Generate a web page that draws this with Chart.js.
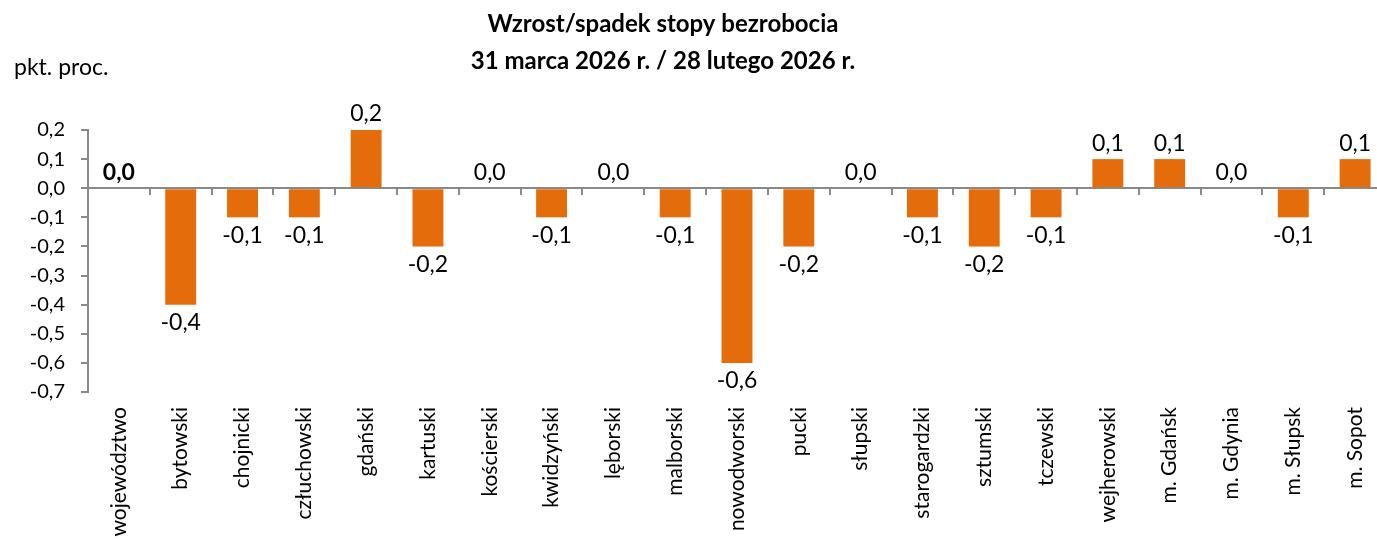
<!DOCTYPE html>
<html>
<head>
<meta charset="utf-8">
<script src="https://cdn.jsdelivr.net/npm/chart.js@4"></script>
<style>
  html, body { margin: 0; padding: 0; background: #fff; overflow: hidden; }
  #wrap { width: 1377px; height: 540px; overflow: hidden; position: relative; }
  #box { width: 1400px; height: 600px; position: absolute; left: 0; top: 0; }
</style>
</head>
<body>
<div id="wrap"><div id="box"><canvas id="chart"></canvas></div></div>
<script>
const FONT = 'Lato, "Liberation Sans", sans-serif';

const categories = ['województwo', 'bytowski', 'chojnicki', 'człuchowski', 'gdański', 'kartuski',
  'kościerski', 'kwidzyński', 'lęborski', 'malborski', 'nowodworski', 'pucki', 'słupski',
  'starogardzki', 'sztumski', 'tczewski', 'wejherowski', 'm. Gdańsk', 'm. Gdynia', 'm. Słupsk', 'm. Sopot'];
const changes = [0.0, -0.4, -0.1, -0.1, 0.2, -0.2, 0.0, -0.1, 0.0, -0.1, -0.6, -0.2, 0.0, -0.1, -0.2, -0.1, 0.1, 0.1, 0.0, -0.1, 0.1];
const titleLines = ['Wzrost/spadek stopy bezrobocia', '31 marca 2026 r. / 28 lutego 2026 r.'];
const unitLabel = 'pkt. proc.';

const fmt = v => v.toFixed(1).replace('.', ',');

// title, unit and value labels
const textPlugin = {
  id: 'texts',
  afterDraw(chart) {
    const ctx = chart.ctx;
    ctx.save();
    ctx.fillStyle = '#000';
    ctx.textAlign = 'center';
    ctx.textBaseline = 'middle';
    ctx.font = 'bold 24px ' + FONT;
    ctx.fillText(titleLines[0], 663, 24);
    ctx.fillText(titleLines[1], 663, 61);
    ctx.textAlign = 'left';
    ctx.font = '23px ' + FONT;
    ctx.fillText(unitLabel, 14, 68);

    const meta = chart.getDatasetMeta(0);
    meta.data.forEach((bar, i) => {
      const v = changes[i];
      ctx.font = (i === 0 ? 'bold ' : '') + '23px ' + FONT;
      const y = v < 0 ? bar.y + 18 : bar.y - 16;
      ctx.textAlign = 'center';
      ctx.fillText(fmt(v), bar.x, y);
    });
    ctx.restore();
  }
};

new Chart(document.getElementById('chart'), {
  type: 'bar',
  data: {
    labels: categories,
    datasets: [{
      data: changes,
      backgroundColor: '#E46C0A',
      barPercentage: 0.5,
      categoryPercentage: 1
    }]
  },
  options: {
    responsive: true,
    maintainAspectRatio: false,
    animation: false,
    layout: { padding: { top: 130, right: 14, left: 0, bottom: 0 } },
    plugins: { legend: { display: false }, tooltip: { enabled: false }, title: { display: false } },
    scales: {
      x: {
        type: 'category',
        position: 'bottom',
        offset: true,
        grid: { display: false, drawTicks: false },
        border: { display: false },
        ticks: {
          color: '#000',
          font: { family: FONT, size: 21 },
          minRotation: 90,
          maxRotation: 90,
          autoSkip: false,
          padding: 15
        },
        afterFit: s => { s.height = 208; }
      },
      xZero: {
        type: 'category',
        labels: categories,
        position: { y: 0 },
        offset: true,
        grid: { offset: true, drawOnChartArea: false, drawTicks: true, tickLength: 6, color: '#898989', lineWidth: 2 },
        border: { color: '#898989', width: 2 },
        ticks: { display: false }
      },
      y: {
        min: -0.7,
        max: 0.2,
        grid: { drawOnChartArea: false, tickLength: 7, color: '#898989', lineWidth: 2 },
        border: { color: '#898989', width: 2 },
        ticks: {
          stepSize: 0.1,
          color: '#000',
          padding: 16,
          font: { family: FONT, size: 20 },
          callback: v => fmt(Math.round(v * 10) / 10)
        },
        afterFit: s => { s.width = 88; }
      }
    }
  },
  plugins: [textPlugin]
});
</script>
</body>
</html>
